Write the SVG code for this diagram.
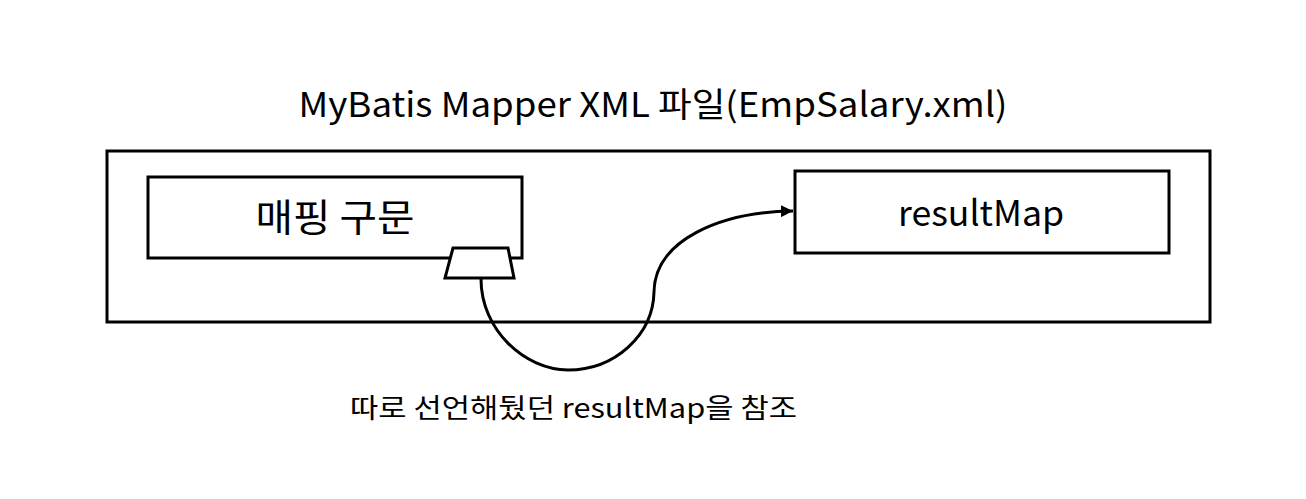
<svg xmlns="http://www.w3.org/2000/svg" width="1306" height="499" viewBox="0 0 1306 499">
<defs>
<style>
.box{fill:#fff;stroke:#000;stroke-width:3}
.t{font-family:"Noto Sans CJK KR","Noto Sans",sans-serif;fill:#000}
.c{fill:none;stroke:#000;stroke-width:3}
</style>
<marker id="ah" viewBox="0 0 10 10" refX="10" refY="5" markerWidth="4" markerHeight="4" orient="auto" markerUnits="strokeWidth">
<path d="M0,0 L10,5 L0,10 z" fill="#000"/>
</marker>
</defs>
<rect width="1306" height="499" fill="#fff"/>
<text class="t" x="653" y="117" font-size="34" text-anchor="middle" textLength="709" lengthAdjust="spacingAndGlyphs">MyBatis Mapper XML 파일(EmpSalary.xml)</text>
<g id="container">
<rect class="box" x="107" y="151" width="1103" height="171"/>
</g>
<g id="mapping">
<rect class="box" x="148" y="177" width="374" height="81"/>
<text class="t" x="335" y="231" font-size="38" text-anchor="middle" textLength="159" lengthAdjust="spacingAndGlyphs">매핑 구문</text>
</g>
<g id="resultMap">
<rect class="box" x="795" y="171" width="374" height="82"/>
<text class="t" x="981" y="226" font-size="35" text-anchor="middle" textLength="166" lengthAdjust="spacingAndGlyphs">resultMap</text>
</g>
<g id="port">
<polygon class="box" points="453,248 508,248 514,278 445,278"/>
</g>
<g id="connectors">
<path class="c" d="M481,279 C481,330 525,370 568,370 C615,370 653,335 654,292 C655,240 720,212 793,211" marker-end="url(#ah)"/>
</g>
<text class="t" x="350" y="418" font-size="27" textLength="447" lengthAdjust="spacingAndGlyphs">따로 선언해뒀던 resultMap을 참조</text>
</svg>
